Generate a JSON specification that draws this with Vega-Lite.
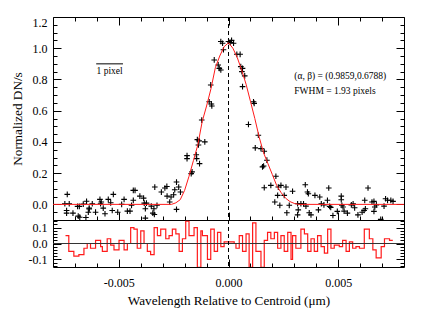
{
  "$schema": "https://vega.github.io/schema/vega-lite/v6.json",
  "padding": {"left": 9, "top": 15, "right": 17, "bottom": 5},
  "background": "white",
  "spacing": 0,
  "bounds": "flush",
  "config": {
    "view": {"stroke": "black", "strokeWidth": 1},
    "axis": {"domain": false, "grid": false, "labelFont": "Liberation Serif", "titleFont": "Liberation Serif", "labelFontSize": 12, "titleFontSize": 13.2, "titleFontWeight": "normal", "labelColor": "black", "titleColor": "black", "tickColor": "black", "tickWidth": 1},
    "text": {"font": "Liberation Serif"}
  },
  "datasets": {
    "pts": [
      {"x": -0.00735, "y": 0.064}, {"x": -0.00746, "y": 0.004}, {"x": -0.00726, "y": 0.004}, {"x": -0.00738, "y": -0.039}, {"x": -0.00738, "y": -0.056}, {"x": -0.00709, "y": -0.056},
      {"x": -0.00688, "y": -0.013}, {"x": -0.0068, "y": -0.013}, {"x": -0.00685, "y": -0.075}, {"x": -0.00678, "y": -0.082}, {"x": -0.00662, "y": 0.002}, {"x": -0.00647, "y": 0.02},
      {"x": -0.0065, "y": -0.084}, {"x": -0.00635, "y": -0.024}, {"x": -0.00635, "y": -0.03}, {"x": -0.00639, "y": -0.05}, {"x": -0.00621, "y": 0.004}, {"x": -0.00606, "y": -0.05},
      {"x": -0.00586, "y": 0.032}, {"x": -0.0058, "y": 0.015}, {"x": -0.00583, "y": 0.004}, {"x": -0.00571, "y": -0.024}, {"x": -0.00563, "y": -0.06}, {"x": -0.00548, "y": 0.032},
      {"x": -0.00537, "y": 0.01}, {"x": -0.00525, "y": 0.064}, {"x": -0.0053, "y": -0.039}, {"x": -0.00505, "y": -0.05}, {"x": -0.00487, "y": 0.0}, {"x": -0.00476, "y": 0.032},
      {"x": -0.00461, "y": -0.043}, {"x": -0.00449, "y": -0.043}, {"x": -0.00442, "y": -0.006}, {"x": -0.00434, "y": 0.09}, {"x": -0.00426, "y": 0.09}, {"x": -0.00434, "y": 0.026},
      {"x": -0.00404, "y": 0.053}, {"x": -0.00387, "y": 0.04}, {"x": -0.00384, "y": 0.008}, {"x": -0.00374, "y": 0.008}, {"x": -0.00379, "y": -0.028}, {"x": -0.00379, "y": -0.088},
      {"x": -0.00352, "y": -0.011}, {"x": -0.00345, "y": -0.056}, {"x": -0.00338, "y": -0.065}, {"x": -0.0034, "y": -0.028}, {"x": -0.00336, "y": 0.111}, {"x": -0.00326, "y": -0.006},
      {"x": -0.00306, "y": 0.079}, {"x": -0.0029, "y": 0.105}, {"x": -0.00281, "y": 0.115}, {"x": -0.0028, "y": 0.053}, {"x": -0.00268, "y": 0.015}, {"x": -0.00262, "y": 0.047},
      {"x": -0.0025, "y": 0.062}, {"x": -0.00245, "y": 0.094}, {"x": -0.00237, "y": 0.143}, {"x": -0.00237, "y": -0.032}, {"x": -0.00227, "y": 0.111}, {"x": -0.00219, "y": 0.079},
      {"x": -0.00189, "y": 0.312}, {"x": -0.00189, "y": 0.293}, {"x": -0.0017, "y": 0.197}, {"x": -0.00166, "y": 0.208}, {"x": -0.00147, "y": 0.318}, {"x": -0.00145, "y": 0.293},
      {"x": -0.00132, "y": 0.261}, {"x": -0.00142, "y": 0.415}, {"x": -0.00134, "y": 0.407}, {"x": -0.00108, "y": 0.4}, {"x": -0.00137, "y": 0.38}, {"x": -0.00122, "y": 0.54},
      {"x": -0.00088, "y": 0.657}, {"x": -0.00078, "y": 0.643}, {"x": -0.00076, "y": 0.63}, {"x": -0.00081, "y": 0.765}, {"x": -0.00065, "y": 0.925}, {"x": -0.00047, "y": 0.893},
      {"x": -0.00042, "y": 0.871}, {"x": -0.00035, "y": 0.861}, {"x": -0.00035, "y": 1.043}, {"x": -0.00027, "y": 1.032}, {"x": -0.00023, "y": 0.99}, {"x": 0.0, "y": 1.043},
      {"x": 0.00014, "y": 1.05}, {"x": 0.00023, "y": 1.032}, {"x": 0.00008, "y": 1.037}, {"x": 0.00038, "y": 0.961}, {"x": 0.00053, "y": 0.961}, {"x": 0.00056, "y": 0.882},
      {"x": 0.00064, "y": 0.871}, {"x": 0.00061, "y": 0.85}, {"x": 0.00074, "y": 0.823}, {"x": 0.00064, "y": 0.754}, {"x": 0.00114, "y": 0.657}, {"x": 0.00117, "y": 0.647},
      {"x": 0.00091, "y": 0.512}, {"x": 0.00136, "y": 0.443}, {"x": 0.00122, "y": 0.362}, {"x": 0.00148, "y": 0.357}, {"x": 0.00163, "y": 0.34}, {"x": 0.00175, "y": 0.283},
      {"x": 0.00155, "y": 0.24}, {"x": 0.0016, "y": 0.246}, {"x": 0.00216, "y": 0.18}, {"x": 0.00163, "y": 0.107}, {"x": 0.00193, "y": 0.122}, {"x": 0.00227, "y": 0.111},
      {"x": 0.00239, "y": 0.122}, {"x": 0.00224, "y": 0.058}, {"x": 0.00211, "y": 0.015}, {"x": 0.00254, "y": 0.058}, {"x": 0.00262, "y": 0.111}, {"x": 0.00234, "y": -0.006},
      {"x": 0.00266, "y": -0.054}, {"x": 0.00277, "y": -0.006}, {"x": 0.00292, "y": 0.084}, {"x": 0.00315, "y": 0.004}, {"x": 0.0033, "y": 0.004}, {"x": 0.00318, "y": -0.035},
      {"x": 0.00315, "y": -0.067}, {"x": 0.00342, "y": 0.004}, {"x": 0.00353, "y": -0.011}, {"x": 0.0035, "y": 0.126}, {"x": 0.0036, "y": 0.079}, {"x": 0.00364, "y": 0.068},
      {"x": 0.00368, "y": -0.054}, {"x": 0.00376, "y": -0.067}, {"x": 0.00394, "y": 0.058}, {"x": 0.00416, "y": 0.047}, {"x": 0.0041, "y": -0.035}, {"x": 0.00423, "y": 0.004},
      {"x": 0.00435, "y": -0.003}, {"x": 0.00451, "y": 0.026}, {"x": 0.00457, "y": 0.105}, {"x": 0.00461, "y": -0.013}, {"x": 0.00466, "y": -0.019}, {"x": 0.00476, "y": -0.071},
      {"x": 0.00496, "y": -0.045}, {"x": 0.00514, "y": 0.053}, {"x": 0.00514, "y": 0.03}, {"x": 0.00517, "y": -0.006}, {"x": 0.00527, "y": -0.043}, {"x": 0.00522, "y": -0.017},
      {"x": 0.00542, "y": -0.056}, {"x": 0.0056, "y": -0.003}, {"x": 0.00568, "y": 0.004}, {"x": 0.00575, "y": -0.022}, {"x": 0.0059, "y": -0.067}, {"x": 0.00609, "y": -0.05},
      {"x": 0.00618, "y": -0.039}, {"x": 0.00624, "y": -0.028}, {"x": 0.00621, "y": 0.026}, {"x": 0.00636, "y": 0.105}, {"x": 0.00654, "y": 0.015}, {"x": 0.00663, "y": 0.019},
      {"x": 0.00667, "y": -0.017}, {"x": 0.00663, "y": -0.045}, {"x": 0.00674, "y": -0.003}, {"x": 0.00694, "y": -0.096}, {"x": 0.00709, "y": -0.011}, {"x": 0.00716, "y": 0.036},
      {"x": 0.00725, "y": 0.026}, {"x": 0.0074, "y": 0.026}, {"x": 0.0075, "y": 0.019}
    ],
    "curve": [
      {"x": -0.008, "y": 0.0}, {"x": -0.0026, "y": 0.0}, {"x": -0.0024, "y": 0.01}, {"x": -0.0022, "y": 0.03}, {"x": -0.002, "y": 0.09}, {"x": -0.0018, "y": 0.18},
      {"x": -0.0016, "y": 0.28}, {"x": -0.0014, "y": 0.38}, {"x": -0.0012, "y": 0.53}, {"x": -0.001, "y": 0.63}, {"x": -0.0008, "y": 0.74}, {"x": -0.0006, "y": 0.875},
      {"x": -0.0004, "y": 0.95}, {"x": -0.0002, "y": 1.01}, {"x": 0.0, "y": 1.035}, {"x": 0.0002, "y": 1.0}, {"x": 0.0004, "y": 0.94}, {"x": 0.0006, "y": 0.86},
      {"x": 0.0008, "y": 0.77}, {"x": 0.001, "y": 0.66}, {"x": 0.0012, "y": 0.55}, {"x": 0.0014, "y": 0.43}, {"x": 0.0016, "y": 0.33}, {"x": 0.0018, "y": 0.26},
      {"x": 0.002, "y": 0.19}, {"x": 0.0022, "y": 0.12}, {"x": 0.0024, "y": 0.075}, {"x": 0.0026, "y": 0.04}, {"x": 0.0028, "y": 0.018}, {"x": 0.003, "y": 0.006},
      {"x": 0.0032, "y": 0.0}, {"x": 0.008, "y": 0.0}
    ],
    "resid": [
      {"x": -0.00743, "r": 0.05}, {"x": -0.00728, "r": -0.05}, {"x": -0.00705, "r": -0.08}, {"x": -0.00682, "r": -0.07}, {"x": -0.00659, "r": -0.03}, {"x": -0.00644, "r": 0.0},
      {"x": -0.00629, "r": -0.03}, {"x": -0.00606, "r": 0.02}, {"x": -0.00583, "r": -0.02}, {"x": -0.00575, "r": -0.05}, {"x": -0.00553, "r": 0.03}, {"x": -0.00537, "r": -0.01},
      {"x": -0.00522, "r": -0.04}, {"x": -0.00499, "r": 0.02}, {"x": -0.00476, "r": -0.04}, {"x": -0.00461, "r": 0.0}, {"x": -0.00446, "r": 0.1}, {"x": -0.00431, "r": 0.09},
      {"x": -0.00416, "r": -0.03}, {"x": -0.004, "r": 0.08}, {"x": -0.00385, "r": 0.0}, {"x": -0.0037, "r": -0.05}, {"x": -0.00355, "r": -0.07}, {"x": -0.00339, "r": 0.1},
      {"x": -0.00324, "r": 0.05}, {"x": -0.00309, "r": 0.09}, {"x": -0.00286, "r": 0.03}, {"x": -0.00271, "r": 0.05}, {"x": -0.00256, "r": 0.09}, {"x": -0.0024, "r": 0.06},
      {"x": -0.00225, "r": -0.05}, {"x": -0.0021, "r": 0.03}, {"x": -0.00195, "r": 0.14}, {"x": -0.0018, "r": 0.05}, {"x": -0.00157, "r": 0.1}, {"x": -0.00142, "r": -0.15},
      {"x": -0.00126, "r": 0.08}, {"x": -0.00119, "r": 0.05}, {"x": -0.00096, "r": -0.1}, {"x": -0.00081, "r": 0.09}, {"x": -0.00065, "r": -0.05}, {"x": -0.0005, "r": 0.07},
      {"x": -0.00035, "r": -0.02}, {"x": -0.0002, "r": 0.01}, {"x": 0.00003, "r": 0.01}, {"x": 0.00026, "r": 0.0}, {"x": 0.00034, "r": -0.03}, {"x": 0.00049, "r": 0.05},
      {"x": 0.00064, "r": -0.05}, {"x": 0.0008, "r": 0.06}, {"x": 0.00094, "r": -0.15}, {"x": 0.0011, "r": 0.13}, {"x": 0.00125, "r": -0.05}, {"x": 0.00148, "r": -0.15},
      {"x": 0.00163, "r": 0.02}, {"x": 0.00178, "r": 0.07}, {"x": 0.00193, "r": 0.03}, {"x": 0.00209, "r": 0.07}, {"x": 0.00224, "r": -0.03}, {"x": 0.00239, "r": 0.05},
      {"x": 0.00254, "r": -0.05}, {"x": 0.0027, "r": 0.07}, {"x": 0.00285, "r": -0.1}, {"x": 0.00292, "r": 0.05}, {"x": 0.00307, "r": -0.03}, {"x": 0.0033, "r": 0.09},
      {"x": 0.00346, "r": 0.06}, {"x": 0.00361, "r": -0.05}, {"x": 0.00376, "r": 0.03}, {"x": 0.00391, "r": -0.05}, {"x": 0.00406, "r": 0.05}, {"x": 0.00422, "r": -0.02},
      {"x": 0.00437, "r": -0.06}, {"x": 0.00452, "r": 0.09}, {"x": 0.00467, "r": -0.03}, {"x": 0.00482, "r": -0.01}, {"x": 0.00505, "r": -0.02}, {"x": 0.0052, "r": 0.02},
      {"x": 0.00536, "r": -0.05}, {"x": 0.00551, "r": 0.01}, {"x": 0.00566, "r": -0.03}, {"x": 0.00581, "r": -0.02}, {"x": 0.00597, "r": -0.03}, {"x": 0.00619, "r": 0.09},
      {"x": 0.00642, "r": 0.03}, {"x": 0.00658, "r": -0.04}, {"x": 0.00673, "r": -0.09}, {"x": 0.00696, "r": -0.02}, {"x": 0.00711, "r": 0.03}, {"x": 0.00734, "r": 0.02},
      {"x": 0.00749, "r": 0.02}
    ],
    "zero": [{"x": 0, "y": 0}],
    "bar": [{"x1": -0.00603, "x2": -0.00481, "y": 0.9}],
    "barlabel": [{"x": -0.00542, "y": 0.835, "t": "1 pixel"}],
    "notes": [
      {"x": 0.0030, "y": 0.8, "t": "(α, β) = (0.9859,0.6788)"},
      {"x": 0.0030, "y": 0.705, "t": "FWHM = 1.93 pixels"}
    ]
  },
  "vconcat": [
    {
      "width": 351,
      "height": 203,
      "layer": [
        {
          "data": {"name": "pts"},
          "mark": {"type": "point", "shape": "M-1,0H1M0,-1V1", "size": 32, "stroke": "black", "strokeWidth": 1.1, "filled": false, "opacity": 1, "clip": true},
          "encoding": {
            "x": {"field": "x", "type": "quantitative", "scale": {"domain": [-0.008, 0.008], "nice": false, "zero": false},
              "axis": {"orient": "bottom", "title": null, "labels": false, "values": [-0.007,-0.006,-0.005,-0.004,-0.003,-0.002,-0.001,0,0.001,0.002,0.003,0.004,0.005,0.006,0.007],
                "tickSize": {"condition": {"test": "indexof([-0.005,0,0.005], datum.value) >= 0", "value": -8}, "value": -4}}},
            "y": {"field": "y", "type": "quantitative", "scale": {"domain": [-0.1, 1.2], "nice": false, "zero": false},
              "axis": {"orient": "left", "title": "Normalized DN/s", "titlePadding": 8, "labelFlush": true,
                "values": [-0.05,0,0.05,0.1,0.15,0.2,0.25,0.3,0.35,0.4,0.45,0.5,0.55,0.6,0.65,0.7,0.75,0.8,0.85,0.9,0.95,1,1.05,1.1,1.15,1.2],
                "labelExpr": "indexof([0,0.2,0.4,0.6,0.8,1,1.2], datum.value) >= 0 ? format(datum.value, '.1f') : ''",
                "labelPadding": 14,
                "tickSize": {"condition": {"test": "indexof([0,0.2,0.4,0.6,0.8,1,1.2], datum.value) >= 0", "value": -8}, "value": -4}}}
          }
        },
        {
          "data": {"name": "curve"},
          "mark": {"type": "line", "color": "#ff1a1a", "strokeWidth": 1, "clip": true},
          "encoding": {
            "x": {"field": "x", "type": "quantitative",
              "axis": {"orient": "top", "title": null, "labels": false, "values": [-0.007,-0.006,-0.005,-0.004,-0.003,-0.002,-0.001,0,0.001,0.002,0.003,0.004,0.005,0.006,0.007],
                "tickSize": {"condition": {"test": "indexof([-0.005,0,0.005], datum.value) >= 0", "value": -8}, "value": -4}}},
            "y": {"field": "y", "type": "quantitative",
              "axis": {"orient": "right", "title": null, "labels": false,
                "values": [-0.05,0,0.05,0.1,0.15,0.2,0.25,0.3,0.35,0.4,0.45,0.5,0.55,0.6,0.65,0.7,0.75,0.8,0.85,0.9,0.95,1,1.05,1.1,1.15,1.2],
                "tickSize": {"condition": {"test": "indexof([0,0.2,0.4,0.6,0.8,1,1.2], datum.value) >= 0", "value": -8}, "value": -4}}}
          }
        },
        {
          "data": {"name": "zero"},
          "mark": {"type": "rule", "color": "black", "strokeWidth": 1, "strokeDash": [4, 3]},
          "encoding": {"x": {"field": "x", "type": "quantitative", "axis": null}}
        },
        {
          "data": {"name": "bar"},
          "mark": {"type": "rule", "color": "black", "strokeWidth": 1},
          "encoding": {"x": {"field": "x1", "type": "quantitative", "axis": null}, "x2": {"field": "x2"}, "y": {"field": "y", "type": "quantitative", "axis": null}}
        },
        {
          "data": {"name": "barlabel"},
          "mark": {"type": "text", "fontSize": 9.5, "color": "black", "baseline": "alphabetic", "align": "center"},
          "encoding": {"x": {"field": "x", "type": "quantitative", "axis": null}, "y": {"field": "y", "type": "quantitative", "axis": null}, "text": {"field": "t"}}
        },
        {
          "data": {"name": "notes"},
          "mark": {"type": "text", "fontSize": 9.5, "color": "black", "baseline": "alphabetic", "align": "left"},
          "encoding": {"x": {"field": "x", "type": "quantitative", "axis": null}, "y": {"field": "y", "type": "quantitative", "axis": null}, "text": {"field": "t"}}
        }
      ],
      "resolve": {"axis": {"x": "independent", "y": "independent"}}
    },
    {
      "width": 351,
      "height": 47,
      "layer": [
        {
          "data": {"name": "resid"},
          "mark": {"type": "line", "interpolate": "step-after", "color": "#ff1a1a", "strokeWidth": 1.2, "clip": true},
          "encoding": {
            "x": {"field": "x", "type": "quantitative", "scale": {"domain": [-0.008, 0.008], "nice": false, "zero": false},
              "axis": {"orient": "bottom", "title": "Wavelength Relative to Centroid (μm)", "titlePadding": 6, "labelPadding": 18,
                "values": [-0.007,-0.006,-0.005,-0.004,-0.003,-0.002,-0.001,0,0.001,0.002,0.003,0.004,0.005,0.006,0.007],
                "labelExpr": "datum.value == -0.005 ? '-0.005' : datum.value == 0 ? '0.000' : datum.value == 0.005 ? '0.005' : ''",
                "tickSize": {"condition": {"test": "indexof([-0.005,0,0.005], datum.value) >= 0", "value": -8}, "value": -4}}},
            "y": {"field": "r", "type": "quantitative", "scale": {"domain": [-0.148, 0.148], "nice": false, "zero": false},
              "axis": {"orient": "left", "title": null, "labelPadding": 14,
                "values": [-0.14,-0.12,-0.1,-0.08,-0.06,-0.04,-0.02,0,0.02,0.04,0.06,0.08,0.1,0.12,0.14],
                "labelExpr": "datum.value == -0.1 ? '-0.1' : datum.value == 0 ? '0.0' : datum.value == 0.1 ? '0.1' : ''",
                "tickSize": {"condition": {"test": "indexof([-0.1,0,0.1], datum.value) >= 0", "value": -8}, "value": -4}}}
          }
        },
        {
          "data": {"name": "zero"},
          "mark": {"type": "rule", "color": "#333333", "strokeWidth": 1},
          "encoding": {"y": {"field": "y", "type": "quantitative",
            "axis": {"orient": "right", "title": null, "labels": false,
              "values": [-0.14,-0.12,-0.1,-0.08,-0.06,-0.04,-0.02,0,0.02,0.04,0.06,0.08,0.1,0.12,0.14],
              "tickSize": {"condition": {"test": "indexof([-0.1,0,0.1], datum.value) >= 0", "value": -8}, "value": -4}}}}
        },
        {
          "data": {"name": "zero"},
          "mark": {"type": "rule", "color": "black", "strokeWidth": 1, "strokeDash": [4, 3]},
          "encoding": {"x": {"field": "x", "type": "quantitative", "axis": null}}
        }
      ],
      "resolve": {"axis": {"x": "independent", "y": "independent"}}
    }
  ]
}
